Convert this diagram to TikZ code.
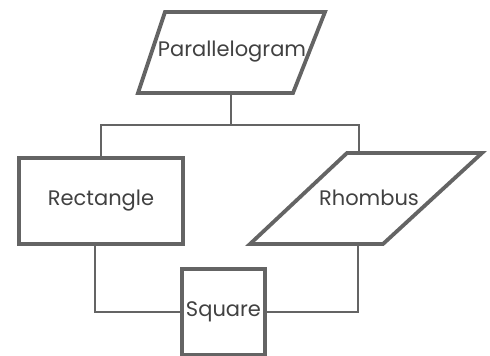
\documentclass[tikz,border=0pt]{standalone}
\usepackage{fontspec}
\setmainfont{Poppins}
\usepackage{tikz}
\usetikzlibrary{positioning}
\definecolor{shapegray}{RGB}{100,100,100}
\definecolor{textgray}{RGB}{65,65,65}

\begin{document}
\begin{tikzpicture}[x=1pt,y=-1pt,
  every node/.style={font=\fontsize{21}{24}\selectfont,text=textgray},
  box/.style={draw=shapegray,line width=3.8pt,rectangle,inner sep=0pt},
  outline/.style={draw=shapegray,line width=3.8pt,line join=miter},
  link/.style={draw=shapegray,line width=1.8pt}]
  \useasboundingbox (0,0) rectangle (490,356);
  % top parallelogram
  \draw[outline] (165,12) -- (325,12) -- (293,93) -- (138,93) -- cycle;
  \node (para) at (232,52) {Parallelogram};
  \coordinate (parafoot) at (231,93);
  % rectangle and rhombus
  \node[box,minimum width=164pt,minimum height=86pt] (rect) at (101,201) {Rectangle};
  \draw[outline] (347,153) -- (482,153) -- (383,244) -- (250,244) -- cycle;
  \node (rhom) at (369,198) {Rhombus};
  \coordinate (rhomhead) at (359,153);
  \coordinate (rhomfoot) at (358,244);
  % square
  \node[box,minimum width=83pt,minimum height=86pt] (sq) at (223.5,312) {Square};
  % connectors
  \coordinate (bus) at (231,125);
  \draw[link] (parafoot) -- (bus);
  \draw[link] (rect.north) |- (bus) -| (rhomhead);
  \draw[link] ([xshift=-6pt]rect.south) |- (sq.west);
  \draw[link] (rhomfoot) |- (sq.east);
\end{tikzpicture}
\end{document}
